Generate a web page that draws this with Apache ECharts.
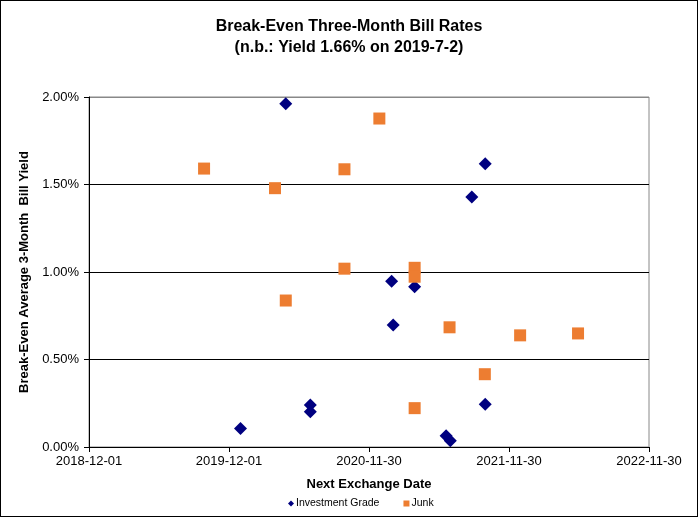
<!DOCTYPE html>
<html><head><meta charset="utf-8">
<script src="https://cdn.jsdelivr.net/npm/echarts@6/dist/echarts.min.js"></script>
<style>
html,body{margin:0;padding:0;background:#fff;}
#c{width:698px;height:517px;box-sizing:border-box;border:1px solid #000;}
</style></head><body>
<div id="c"></div>
<script>
// Data
const igDates = ["2019-12-31","2020-04-27","2020-06-30","2020-06-30","2021-01-28","2021-02-01","2021-03-29","2021-06-19","2021-06-30","2021-08-25","2021-09-29","2021-09-29"];
const igYield = [0.106,1.962,0.240,0.201,0.947,0.697,0.916,0.064,0.036,1.428,1.618,0.244];
const junkDates = ["2019-09-27","2020-03-30","2020-04-27","2020-09-27","2020-09-27","2020-12-27","2021-03-29","2021-03-29","2021-03-29","2021-06-28","2021-09-28","2021-12-29","2022-05-29"];
const junkYield = [1.591,1.479,0.837,1.587,1.019,1.877,1.024,0.973,0.222,0.684,0.416,0.638,0.649];
const xTickStart = "2018-12-01";
const xTickLabels = ["2018-12-01","2019-12-01","2020-11-30","2021-11-30","2022-11-30"];
const yTicks = [0,0.5,1.0,1.5,2.0];

const DAY = 86400000;
const base = Date.parse(xTickStart + "T00:00:00Z");
const toDays = s => Math.round((Date.parse(s + "T00:00:00Z") - base) / DAY);
const fromDays = d => new Date(base + d * DAY).toISOString().slice(0,10);

const chart = echarts.init(document.getElementById('c'));
const font = "'Liberation Sans', Arial, sans-serif";
chart.setOption({
  animation:false,
  title:{
    text:'Break-Even Three-Month Bill Rates\n(n.b.: Yield 1.66% on 2019-7-2)',
    left:'center', top:10,
    textStyle:{fontFamily:font,fontSize:16,fontWeight:'bold',color:'#000',lineHeight:21}
  },
  legend:{
    bottom:2, left:282, itemGap:24, itemWidth:6, itemHeight:6,
    textStyle:{fontFamily:font,fontSize:10.5,color:'#000',padding:[0,0,0,-3]},
    data:[{name:'Investment Grade',icon:'diamond'},{name:'Junk',icon:'rect'}]
  },
  grid:{left:88,right:48,top:96,bottom:69,show:true,borderColor:'#888',borderWidth:1},
  xAxis:{
    type:'value', min:0, max:toDays(xTickLabels[4]), interval:365,
    name:'Next Exchange Date', nameLocation:'middle', nameGap:31,
    nameTextStyle:{fontFamily:font,fontSize:13,fontWeight:'bold',color:'#000'},
    axisLine:{lineStyle:{color:'#000'}},
    axisTick:{show:true,length:5,lineStyle:{color:'#000'}},
    axisLabel:{fontFamily:font,fontSize:13,color:'#000',margin:8,formatter:v=>fromDays(v)},
    splitLine:{show:false}
  },
  yAxis:{
    type:'value', min:yTicks[0], max:yTicks[4], interval:0.5,
    name:'Break-Even Average 3-Month  Bill Yield', nameLocation:'middle', nameGap:54,
    nameTextStyle:{fontFamily:font,fontSize:13,fontWeight:'bold',color:'#000'},
    axisLine:{show:true,lineStyle:{color:'#000'}},
    axisTick:{show:true,length:5,lineStyle:{color:'#000'}},
    axisLabel:{fontFamily:font,fontSize:13,color:'#000',margin:10,formatter:v=>v.toFixed(2)+'%'},
    splitLine:{show:true,lineStyle:{color:['#000','#000','#000','#000','#888'],width:1}}
  },
  series:[
    {name:'Investment Grade',type:'scatter',symbol:'diamond',symbolSize:13,
     itemStyle:{color:'#000080',opacity:1},
     data:igDates.map((d,i)=>[toDays(d),igYield[i]])},
    {name:'Junk',type:'scatter',symbol:'rect',symbolSize:12,
     itemStyle:{color:'#ED7D31',opacity:1},
     data:junkDates.map((d,i)=>[toDays(d),junkYield[i]])}
  ]
});
</script>
</body></html>
